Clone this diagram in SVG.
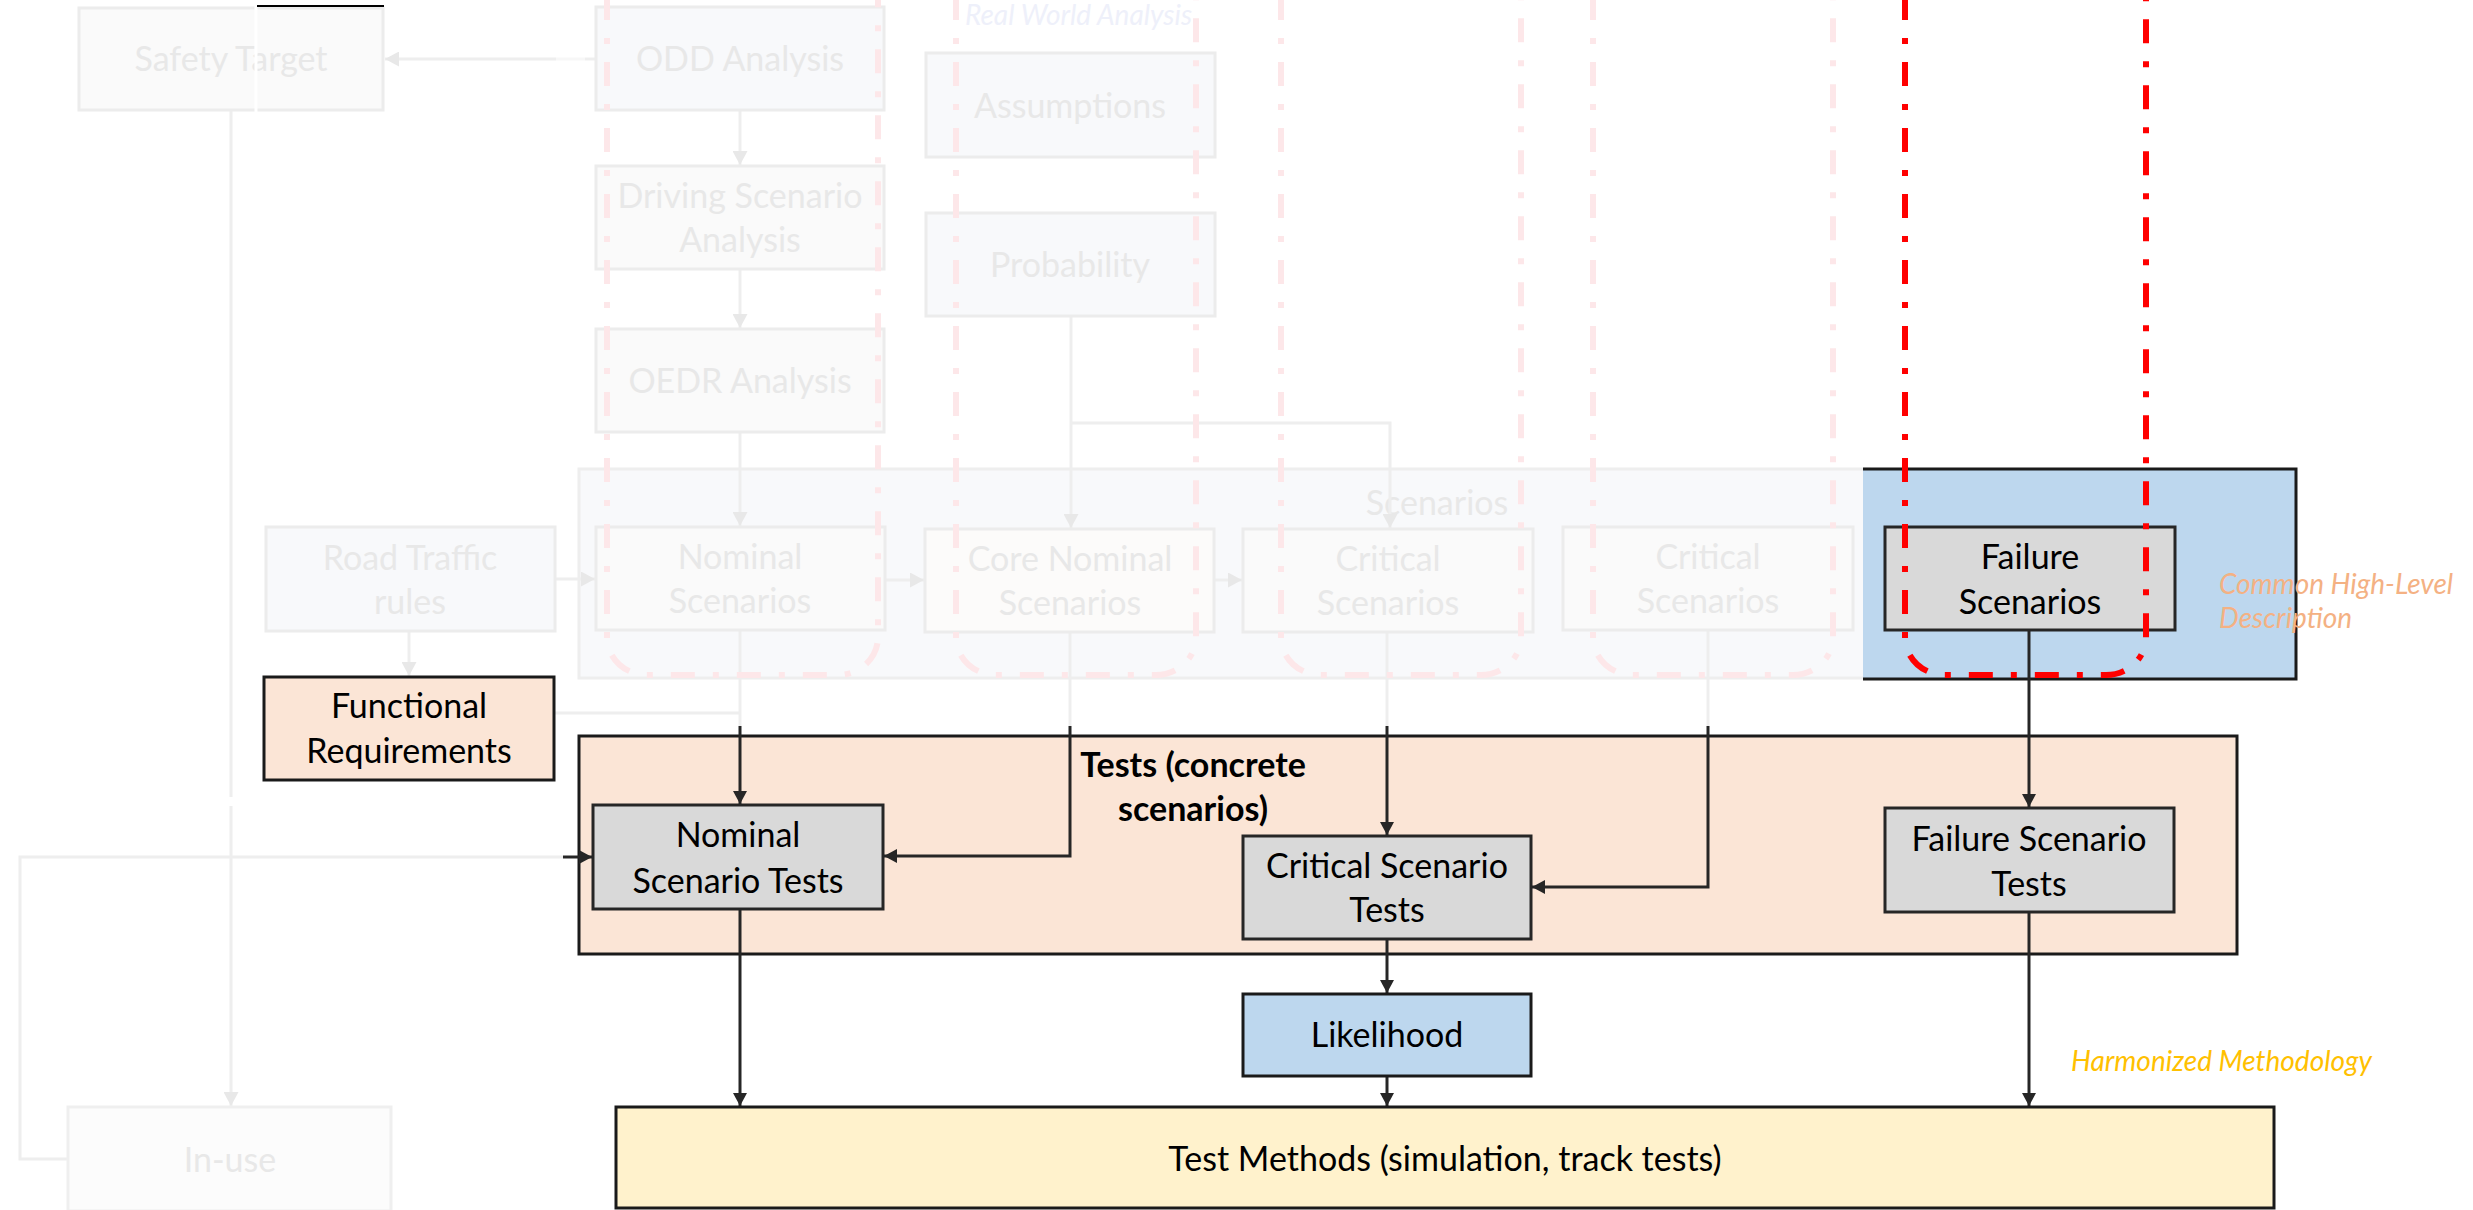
<svg xmlns="http://www.w3.org/2000/svg" width="2473" height="1210" viewBox="0 0 2473 1210">
<style>
text{font-family:Lato,"Liberation Sans",sans-serif;font-size:34px;text-anchor:middle}
.ft{fill:#e8e8e8}
.dt{fill:#000000}
.fbox{fill:#f8f9fb;stroke:#ececec;stroke-width:3}
.gbox{fill:#fafafa;stroke:#ececec;stroke-width:3}
.dbox{stroke:#262626;stroke-width:3}
.fl{fill:none;stroke:#eeeeee;stroke-width:3}
.dl{fill:none;stroke:#262626;stroke-width:3}
.pink{fill:none;stroke:#fde7e9;stroke-width:6;stroke-dasharray:24 18 6 18;stroke-dashoffset:60}
.red{fill:none;stroke:#ff0000;stroke-width:6;stroke-dasharray:24 18 6 18;stroke-dashoffset:60}
.note{font-style:italic;font-size:28px;text-anchor:start}
</style>
<defs>
<marker id="ad" markerUnits="userSpaceOnUse" markerWidth="14" markerHeight="14" refX="13" refY="7" orient="auto"><path d="M0,0 L13,7 L0,14 z" fill="#262626"/></marker>
<marker id="af" markerUnits="userSpaceOnUse" markerWidth="15" markerHeight="15" refX="14" refY="7.5" orient="auto"><path d="M0,0 L14,7.5 L0,15 z" fill="#e8e8e8"/></marker>
</defs>

<!-- faded background band -->
<g id="scenarios-band">
<rect x="579" y="469" width="1290" height="209" fill="#f8f9fb" stroke="#eeeeee" stroke-width="3"/>
<text class="ft" x="1437" y="515">Scenarios</text>
</g>

<g id="real-world-label"><text class="note" x="965" y="25" fill="#eef0fa">Real World Analysis</text></g>

<!-- faded connectors -->
<g id="faded-connectors">
<path class="fl" d="M556 59 H385" marker-end="url(#af)"/>
<path d="M585 59 H556" stroke="#f7f7f7" stroke-width="3" fill="none"/>
<path class="fl" d="M596 59 H585"/>
<path class="fl" d="M231 110 V1106" marker-end="url(#af)"/>
<path class="fl" d="M68 1159 H20 V857 H563"/>
<path class="fl" d="M740 110 V165" marker-end="url(#af)"/>
<path class="fl" d="M740 269 V328" marker-end="url(#af)"/>
<path class="fl" d="M740 432 V526" marker-end="url(#af)"/>
<path class="fl" d="M1071 316 V528" marker-end="url(#af)"/>
<path class="fl" d="M1071 423 H1390 V528" marker-end="url(#af)"/>
<path class="fl" d="M555 579 H595" marker-end="url(#af)"/>
<path class="fl" d="M885 580 H924" marker-end="url(#af)"/>
<path class="fl" d="M1214 580 H1242" marker-end="url(#af)"/>
<path class="fl" d="M409 631 V676" marker-end="url(#af)"/>
<path class="fl" d="M554 713 H740"/>
<path class="fl" d="M740 630 V726"/>
<path class="fl" d="M1070 632 V726"/>
<path class="fl" d="M1387 632 V726"/>
<path class="fl" d="M1708 630 V726"/>
</g>

<!-- faded nodes -->
<g id="safety-target">
<rect class="gbox" x="79" y="8" width="304" height="102"/>
<text class="ft" x="231" y="71">Safety Target</text>
</g>
<g id="odd-analysis">
<rect class="fbox" x="596" y="7" width="288" height="103"/>
<text class="ft" x="740" y="71">ODD Analysis</text>
</g>
<g id="driving-scenario-analysis">
<rect class="gbox" x="596" y="166" width="288" height="103"/>
<text class="ft" x="740" y="208">Driving Scenario</text>
<text class="ft" x="740" y="252">Analysis</text>
</g>
<g id="oedr-analysis">
<rect class="gbox" x="596" y="329" width="288" height="103"/>
<text class="ft" x="740" y="393">OEDR Analysis</text>
</g>
<g id="assumptions">
<rect class="fbox" x="926" y="53" width="289" height="104"/>
<text class="ft" x="1070" y="118">Assumptions</text>
</g>
<g id="probability">
<rect class="fbox" x="926" y="213" width="289" height="103"/>
<text class="ft" x="1070" y="277">Probability</text>
</g>
<g id="road-traffic-rules">
<rect class="fbox" x="266" y="527" width="289" height="104"/>
<text class="ft" x="410" y="570">Road Traffic</text>
<text class="ft" x="410" y="614">rules</text>
</g>
<g id="nominal-scenarios">
<rect class="gbox" x="596" y="527" width="289" height="103"/>
<text class="ft" x="740" y="569">Nominal</text>
<text class="ft" x="740" y="613">Scenarios</text>
</g>
<g id="core-nominal-scenarios">
<rect x="925" y="529" width="289" height="103" fill="#fcfbfa" stroke="#ececec" stroke-width="3"/>
<text class="ft" x="1070" y="571">Core Nominal</text>
<text class="ft" x="1070" y="615">Scenarios</text>
</g>
<g id="critical-scenarios-1">
<rect class="gbox" x="1243" y="529" width="290" height="103"/>
<text class="ft" x="1388" y="571">Critical</text>
<text class="ft" x="1388" y="615">Scenarios</text>
</g>
<g id="critical-scenarios-2">
<rect class="gbox" x="1563" y="527" width="290" height="103"/>
<text class="ft" x="1708" y="569">Critical</text>
<text class="ft" x="1708" y="613">Scenarios</text>
</g>
<g id="in-use">
<rect x="68" y="1107" width="323" height="104" fill="#fcfcfc" stroke="#efefef" stroke-width="3"/>
<text class="ft" x="230" y="1172" fill="#efefef">In-use</text>
</g>

<!-- artifacts near Safety Target -->
<path d="M256 6 V113" stroke="#ffffff" stroke-width="3"/>
<path d="M257 6 H384" stroke="#000000" stroke-width="2"/>
<path d="M231 797 V806" stroke="#ffffff" stroke-width="4"/>

<!-- faded dash-dot groupings -->
<g id="faded-groupings">
<path class="pink" d="M607 -10 V637 A40 38 0 0 0 647 675 H838 A40 38 0 0 0 878 637 V-10"/>
<path class="pink" d="M956 -10 V637 A40 38 0 0 0 996 675 H1156 A40 38 0 0 0 1196 637 V-10"/>
<path class="pink" d="M1281 -10 V637 A40 38 0 0 0 1321 675 H1481 A40 38 0 0 0 1521 637 V-10"/>
<path class="pink" d="M1593 -10 V637 A40 38 0 0 0 1633 675 H1793 A40 38 0 0 0 1833 637 V-10"/>
</g>

<!-- active region -->
<g id="failure-region">
<rect x="1863" y="469" width="433" height="210" fill="#bdd7ee"/>
<path d="M1863 469 H2296 V679 H1863" fill="none" stroke="#1a1a1a" stroke-width="3"/>
</g>

<g id="common-high-level-label">
<text class="note" x="2219" y="594" fill="#f4b183">Common High-Level</text>
<text class="note" x="2219" y="628" fill="#f4b183">Description</text>
</g>

<g id="tests-container">
<rect x="579" y="736" width="1658" height="218" fill="#fbe5d6" stroke="#1a1a1a" stroke-width="3"/>
<text class="dt" x="1193" y="777" font-weight="bold">Tests (concrete</text>
<text class="dt" x="1193" y="821" font-weight="bold">scenarios)</text>
</g>

<g id="functional-requirements">
<rect x="264" y="677" width="290" height="103" fill="#fbe5d6" stroke="#1a1a1a" stroke-width="3"/>
<text class="dt" x="409" y="718">Functional</text>
<text class="dt" x="409" y="763">Requirements</text>
</g>

<!-- dark connectors -->
<g id="connectors">
<path class="dl" d="M740 726 V804" marker-end="url(#ad)"/>
<path class="dl" d="M1070 726 V856 H884" marker-end="url(#ad)"/>
<path class="dl" d="M1387 726 V835" marker-end="url(#ad)"/>
<path class="dl" d="M1708 726 V887 H1532" marker-end="url(#ad)"/>
<path class="dl" d="M2029 630 V807" marker-end="url(#ad)"/>
<path class="dl" d="M563 857 H592" marker-end="url(#ad)"/>
<path class="dl" d="M740 909 V1106" marker-end="url(#ad)"/>
<path class="dl" d="M1387 939 V993" marker-end="url(#ad)"/>
<path class="dl" d="M1387 1076 V1106" marker-end="url(#ad)"/>
<path class="dl" d="M2029 912 V1106" marker-end="url(#ad)"/>
</g>

<g id="failure-scenarios">
<rect class="dbox" x="1885" y="527" width="290" height="103" fill="#d9d9d9"/>
<text class="dt" x="2030" y="569">Failure</text>
<text class="dt" x="2030" y="614">Scenarios</text>
</g>

<g id="nominal-scenario-tests">
<rect class="dbox" x="593" y="805" width="290" height="104" fill="#d9d9d9"/>
<text class="dt" x="738" y="847">Nominal</text>
<text class="dt" x="738" y="893">Scenario Tests</text>
</g>

<g id="critical-scenario-tests">
<rect class="dbox" x="1243" y="836" width="288" height="103" fill="#d9d9d9"/>
<text class="dt" x="1387" y="878">Critical Scenario</text>
<text class="dt" x="1387" y="922">Tests</text>
</g>

<g id="failure-scenario-tests">
<rect class="dbox" x="1885" y="808" width="289" height="104" fill="#d9d9d9"/>
<text class="dt" x="2029" y="851">Failure Scenario</text>
<text class="dt" x="2029" y="896">Tests</text>
</g>

<g id="likelihood">
<rect x="1243" y="994" width="288" height="82" fill="#bdd7ee" stroke="#1a1a1a" stroke-width="3"/>
<text class="dt" x="1387" y="1047">Likelihood</text>
</g>

<g id="harmonized-label">
<text class="note" x="2071" y="1071" fill="#ffc000">Harmonized Methodology</text>
</g>

<g id="test-methods">
<rect x="616" y="1107" width="1658" height="101" fill="#fff2cc" stroke="#1a1a1a" stroke-width="3"/>
<text class="dt" x="1445" y="1171">Test Methods (simulation, track tests)</text>
</g>

<g id="failure-grouping">
<path class="red" d="M1905 -10 V637 A40 38 0 0 0 1945 675 H2106 A40 38 0 0 0 2146 637 V-10"/>
</g>
</svg>
